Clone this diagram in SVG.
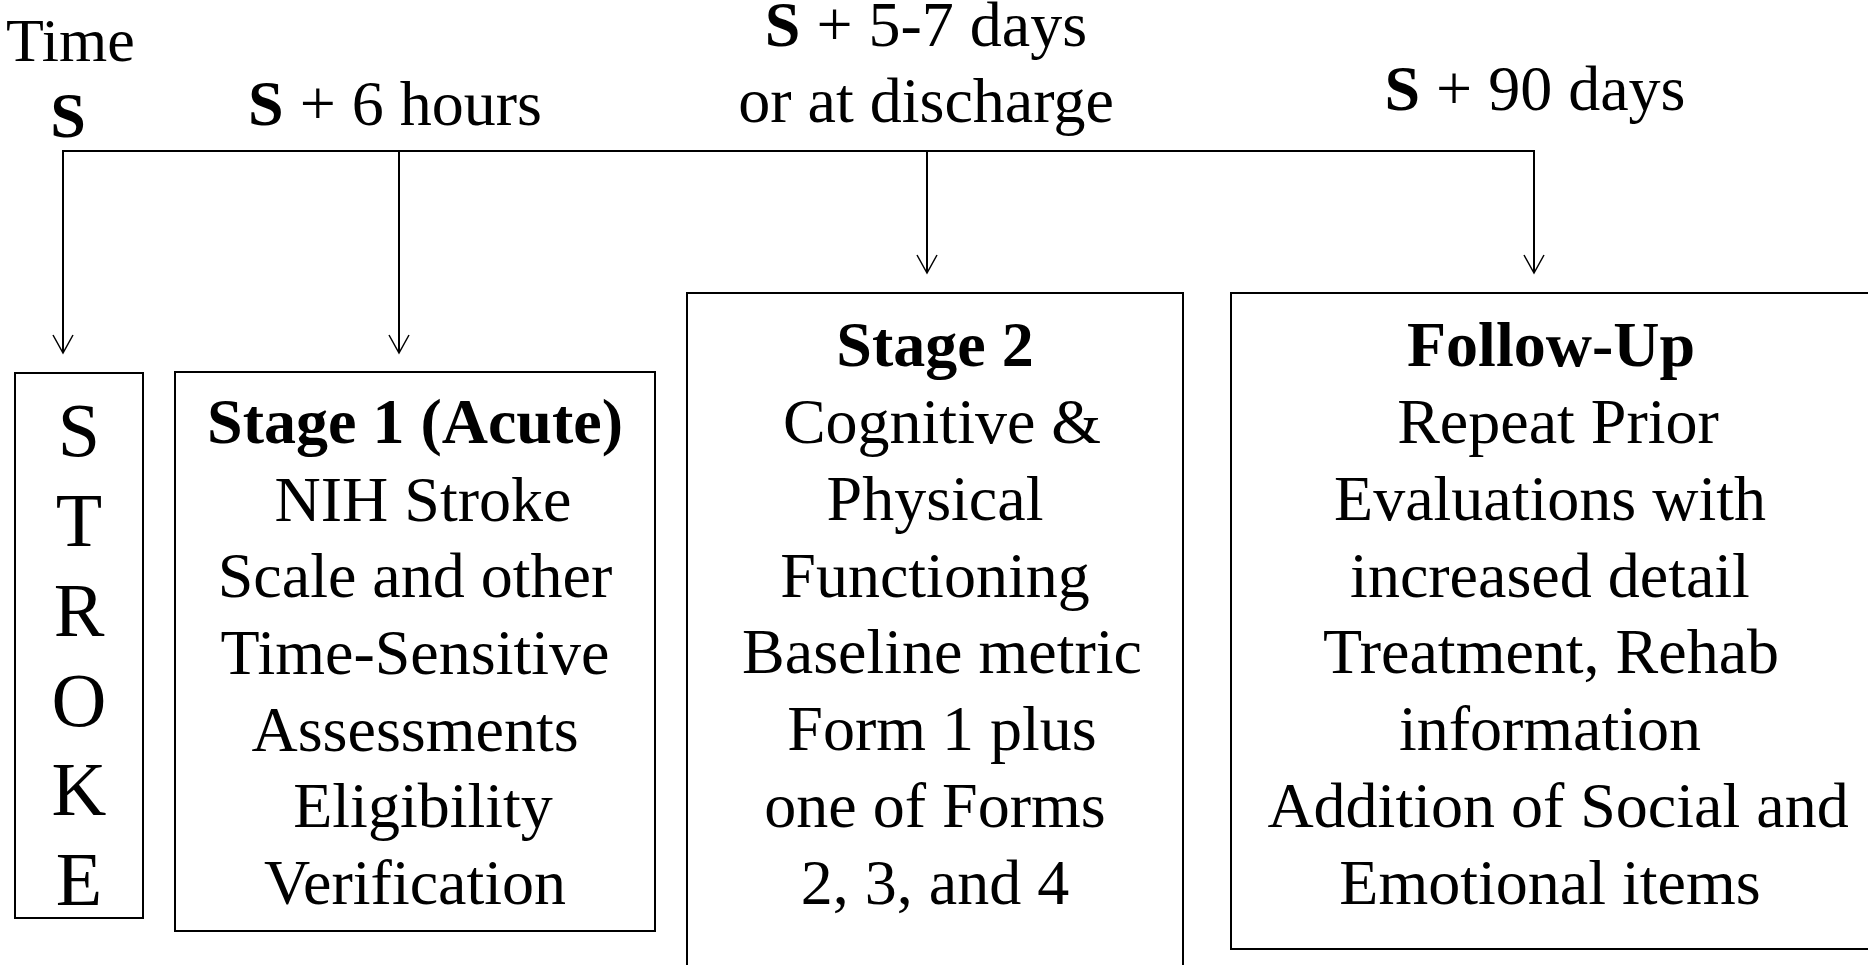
<svg xmlns="http://www.w3.org/2000/svg" width="1868" height="965" viewBox="0 0 1868 965">
<style>
text{font-family:"Liberation Serif","Times New Roman",serif;fill:#000;}
.t{font-size:64px;text-anchor:middle;}
.b{font-weight:bold;}
.box{fill:none;stroke:#000;stroke-width:2;}
.ln{fill:none;stroke:#000;stroke-width:2;}
.ah{fill:none;stroke:#000;stroke-width:1.5;}
.let{font-size:76px;text-anchor:middle;}
</style>
<rect width="1868" height="965" fill="#fff"/>
<g id="labels">
<text x="6" y="61" font-size="62">Time</text>
<text x="68" y="137" font-size="64" class="b" text-anchor="middle">S</text>
<text class="t" x="395" y="125"><tspan class="b">S</tspan> + 6 hours</text>
<text class="t" x="926" y="46"><tspan class="b">S</tspan> + 5-7 days</text>
<text class="t" x="926" y="122">or at discharge</text>
<text class="t" x="1535" y="110"><tspan class="b">S</tspan> + 90 days</text>
</g>
<g id="connectors">
<polyline class="ln" points="63,352 63,151 1534,151 1534,272"/>
<line class="ln" x1="399" y1="151" x2="399" y2="352"/>
<line class="ln" x1="927" y1="151" x2="927" y2="272"/>
<polyline class="ah" points="53,335 63,353 73,335"/>
<polyline class="ah" points="389,335 399,353 409,335"/>
<polyline class="ah" points="917,255 927,273 937,255"/>
<polyline class="ah" points="1524,255 1534,273 1544,255"/>
</g>
<g id="stroke">
<rect class="box" x="15" y="373" width="128" height="545"/>
<text class="let" x="79" y="456">S</text>
<text class="let" x="79" y="546">T</text>
<text class="let" x="79" y="636">R</text>
<text class="let" x="79" y="726">O</text>
<text class="let" x="79" y="815">K</text>
<text class="let" x="79" y="905">E</text>
</g>
<g id="stage1">
<rect class="box" x="175" y="372" width="480" height="559" stroke="#222"/>
<text class="t b" x="415" y="443">Stage 1 (Acute)</text>
<text class="t" x="423" y="521">NIH Stroke</text>
<text class="t" x="415" y="597">Scale and other</text>
<text class="t" x="415" y="674">Time-Sensitive</text>
<text class="t" x="415" y="751">Assessments</text>
<text class="t" x="423" y="827">Eligibility</text>
<text class="t" x="415" y="904">Verification</text>
</g>
<g id="stage2">
<rect class="box" x="687" y="293" width="496" height="720"/>
<text class="t b" x="935" y="366">Stage 2</text>
<text class="t" x="942" y="443">Cognitive &amp;</text>
<text class="t" x="935" y="520">Physical</text>
<text class="t" x="935" y="597">Functioning</text>
<text class="t" x="942" y="673">Baseline metric</text>
<text class="t" x="942" y="750">Form 1 plus</text>
<text class="t" x="935" y="827">one of Forms</text>
<text class="t" x="935" y="904">2, 3, and 4</text>
</g>
<g id="followup">
<rect class="box" x="1231" y="293" width="639" height="656"/>
<text class="t b" x="1551" y="366">Follow-Up</text>
<text class="t" x="1558" y="443">Repeat Prior</text>
<text class="t" x="1550" y="520">Evaluations with</text>
<text class="t" x="1550" y="597">increased detail</text>
<text class="t" x="1551" y="673">Treatment, Rehab</text>
<text class="t" x="1550" y="750">information</text>
<text class="t" x="1558" y="827">Addition of Social and</text>
<text class="t" x="1550" y="904">Emotional items</text>
</g>
</svg>
